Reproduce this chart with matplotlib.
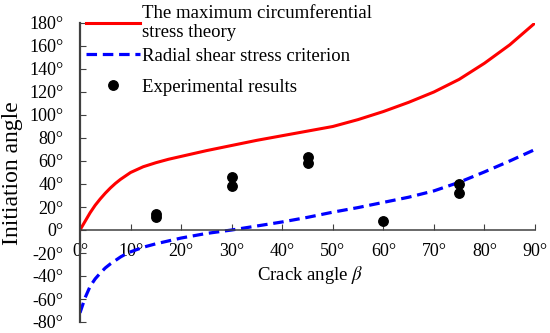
import matplotlib
matplotlib.use("Agg")
import matplotlib.pyplot as plt

plt.rcParams['font.family'] = ['Liberation Serif', 'DejaVu Serif']
plt.rcParams['mathtext.fontset'] = 'stix'

# Crack angle positions for the theoretical curves
beta_curve = [0, 1, 2, 3, 4, 5, 6, 7, 8, 9, 10, 12.5, 15, 17.5, 20, 25, 30, 35, 40, 45, 50,
              55, 60, 65, 70, 75, 80, 85, 90]
# Maximum circumferential stress theory (red)
mcs_theory = [0, 7.5, 15, 21.5, 27, 32, 36.5, 40.5, 44, 47, 50, 55, 58.5, 61.5, 64, 69, 73.5,
              78, 82, 86, 90, 96, 103, 111, 120, 131, 145, 161, 180]
# Radial shear stress criterion (blue)
rss_theory = [-72, -59, -49, -42.5, -37.5, -33, -29.5, -26.5, -23.5, -21, -19, -15, -12, -9.5, -7,
              -3, 0, 3.5, 7, 11, 15.5, 19.5, 24, 28.5, 34, 41.5, 50.5, 60, 70]
# Experimental results
exp_beta = [15, 15, 30, 30, 45, 45, 60, 75, 75]
exp_angle = [11, 13.5, 38, 46.5, 58.5, 63.5, 7.5, 32, 40]

xticks = [0, 10, 20, 30, 40, 50, 60, 70, 80, 90]
yticks = [-80, -60, -40, -20, 0, 20, 40, 60, 80, 100, 120, 140, 160, 180]

fig = plt.figure(figsize=(5.5, 3.33), dpi=100)
ax = fig.add_axes([80/550, 1-322/333, 455/550, 299/333])

l1, = ax.plot(beta_curve, mcs_theory, color='#ff0000', lw=2.2,
              label='The maximum circumferential\nstress theory')
l2, = ax.plot(beta_curve, rss_theory, color='#0000ff', lw=2.3, ls=(0, (3.3, 1.8)),
              label='Radial shear stress criterion')
l3, = ax.plot(exp_beta, exp_angle, 'o', color='black', ms=6.8, ls='none',
              label='Experimental results')

ax.set_xlim(0, 90)
ax.set_ylim(-80, 180)
ax.spines['top'].set_visible(False)
ax.spines['right'].set_visible(False)
ax.spines['bottom'].set_position(('data', 0))
ax.spines['left'].set_color('#404040')
ax.spines['left'].set_linewidth(1.6)
ax.spines['bottom'].set_color('#404040')
ax.spines['bottom'].set_linewidth(1.1)

ax.set_xticks(xticks)
ax.set_xticklabels([f'{v}°' for v in xticks])
ax.set_yticks(yticks)
ax.set_yticklabels([f'{v}°' for v in yticks])
ax.tick_params(axis='x', direction='in', length=4, pad=9, labelsize=13, colors='#404040', labelcolor='black')
ax.tick_params(axis='y', direction='in', length=4, pad=12, labelsize=13, colors='#404040', labelcolor='black')

fig.text(13/550, 1-173/333, 'Initiation angle', fontsize=17, rotation=90, ha='center', va='center')
fig.text(310/550, 1-275/333, r'Crack angle $\it{\beta}$', fontsize=13.5, ha='center', va='center')

# One legend entry per row, positioned like the reference
for handle, ypix in [(l1, 23), (l2, 56), (l3, 87)]:
    leg = fig.legend(handles=[handle], loc='center left', bbox_to_anchor=(86/550, 1-ypix/333),
                     frameon=False, fontsize=13.5, handlelength=2.9, handletextpad=0.1,
                     borderpad=0, borderaxespad=0)
    for t in leg.get_texts():
        t.set_linespacing(1.08)

fig.savefig('out.png', dpi=100)
